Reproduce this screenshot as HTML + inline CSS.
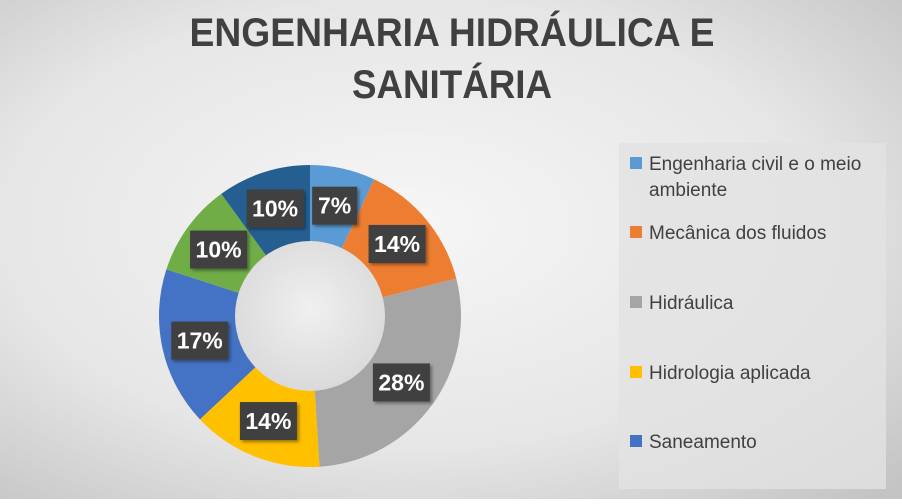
<!DOCTYPE html>
<html><head><meta charset="utf-8"><style>
html,body{margin:0;padding:0}
body{width:902px;height:499px;overflow:hidden;font-family:"Liberation Sans",sans-serif}
</style></head><body>
<svg id="chart" width="902" height="499" viewBox="0 0 902 499">
<defs>
<radialGradient id="bg" cx="0.45" cy="0.45" r="0.75">
<stop offset="0" stop-color="#f6f6f6"/><stop offset="0.6" stop-color="#e6e6e6"/><stop offset="1" stop-color="#c4c4c4"/>
</radialGradient>
<radialGradient id="hole" cx="0.5" cy="0.45" r="0.6">
<stop offset="0" stop-color="#f0f0f0"/><stop offset="1" stop-color="#d8d8d8"/>
</radialGradient>
<filter id="sh" x="-20%" y="-20%" width="150%" height="150%"><feDropShadow dx="2" dy="2" stdDeviation="1.5" flood-color="#000" flood-opacity="0.4"/></filter>
</defs>
<rect width="902" height="499" fill="url(#bg)"/>
<text x="452" y="46" text-anchor="middle" font-size="40" font-weight="bold" fill="#404040" textLength="525" lengthAdjust="spacingAndGlyphs">ENGENHARIA HIDRÁULICA E</text>
<text x="452" y="98" text-anchor="middle" font-size="40" font-weight="bold" fill="#404040" textLength="200" lengthAdjust="spacingAndGlyphs">SANITÁRIA</text>
<rect x="619" y="143" width="267" height="346" fill="#e2e2e2" opacity="0.8"/>
<g id="slices"></g>
<circle cx="310" cy="316" r="75" fill="url(#hole)"/>
<g id="labels"></g>
<g id="legend"></g>
</svg>
<script>
const categories = ["Engenharia civil e o meio ambiente","Mecânica dos fluidos","Hidráulica","Hidrologia aplicada","Saneamento","Série 6","Série 7"];
const values = [7,14,28,14,17,10,10];
const valueLabels = ["7%","14%","28%","14%","17%","10%","10%"];
const colors = ["#5b9bd5","#ed7d31","#a5a5a5","#ffc000","#4472c4","#70ad47","#255e91"];
const NS="http://www.w3.org/2000/svg";
const cx=310, cy=316, R=151, r=75, rl=113;
const total=values.reduce((a,b)=>a+b,0);
function angle(v){return v/total*2*Math.PI;}
function pt(a,rad){return [cx+rad*Math.sin(a), cy-rad*Math.cos(a)];}
const sg=document.getElementById('slices'), lg=document.getElementById('labels');
let acc=0;
values.forEach((v,i)=>{
  const a0=angle(acc), a1=angle(acc+v); acc+=v;
  const [x0,y0]=pt(a0,R),[x1,y1]=pt(a1,R);
  const large=(a1-a0)>Math.PI?1:0;
  const p=document.createElementNS(NS,'path');
  p.setAttribute('d',`M${cx},${cy} L${x0},${y0} A${R},${R} 0 ${large} 1 ${x1},${y1} Z`);
  p.setAttribute('fill',colors[i]);
  
  
  sg.appendChild(p);
  const [lx,ly]=pt((a0+a1)/2,rl);
  const w=valueLabels[i].length>2?57:45;
  const g=document.createElementNS(NS,'g');
  
  
  const rc=document.createElementNS(NS,'rect');
  rc.setAttribute('x',lx-w/2);rc.setAttribute('y',ly-19);rc.setAttribute('width',w);rc.setAttribute('height',38);
  rc.setAttribute('fill','#404040');rc.setAttribute('filter','url(#sh)');
  const t=document.createElementNS(NS,'text');
  t.setAttribute('x',lx);t.setAttribute('y',ly+8);t.setAttribute('text-anchor','middle');
  t.setAttribute('font-size','23');t.setAttribute('font-weight','bold');t.setAttribute('fill','#fff');
  t.textContent=valueLabels[i];
  g.appendChild(rc);g.appendChild(t);lg.appendChild(g);
});
const leg=document.getElementById('legend');
const legY=[163,232,302,372,441];
for(let i=0;i<5;i++){
  const g=document.createElementNS(NS,'g');
  
  
  const s=document.createElementNS(NS,'rect');
  s.setAttribute('x',630);s.setAttribute('y',legY[i]-6);s.setAttribute('width',12);s.setAttribute('height',12);s.setAttribute('fill',colors[i]);
  g.appendChild(s);
  const lines=i===0?["Engenharia civil e o meio","ambiente"]:[categories[i]];
  lines.forEach((ln,j)=>{
    const t=document.createElementNS(NS,'text');
    t.setAttribute('x',649);t.setAttribute('y',legY[i]+7+j*26);
    t.setAttribute('font-size','19');t.setAttribute('fill','#404040');
    t.textContent=ln;g.appendChild(t);
  });
  leg.appendChild(g);
}
</script>
</body></html>
